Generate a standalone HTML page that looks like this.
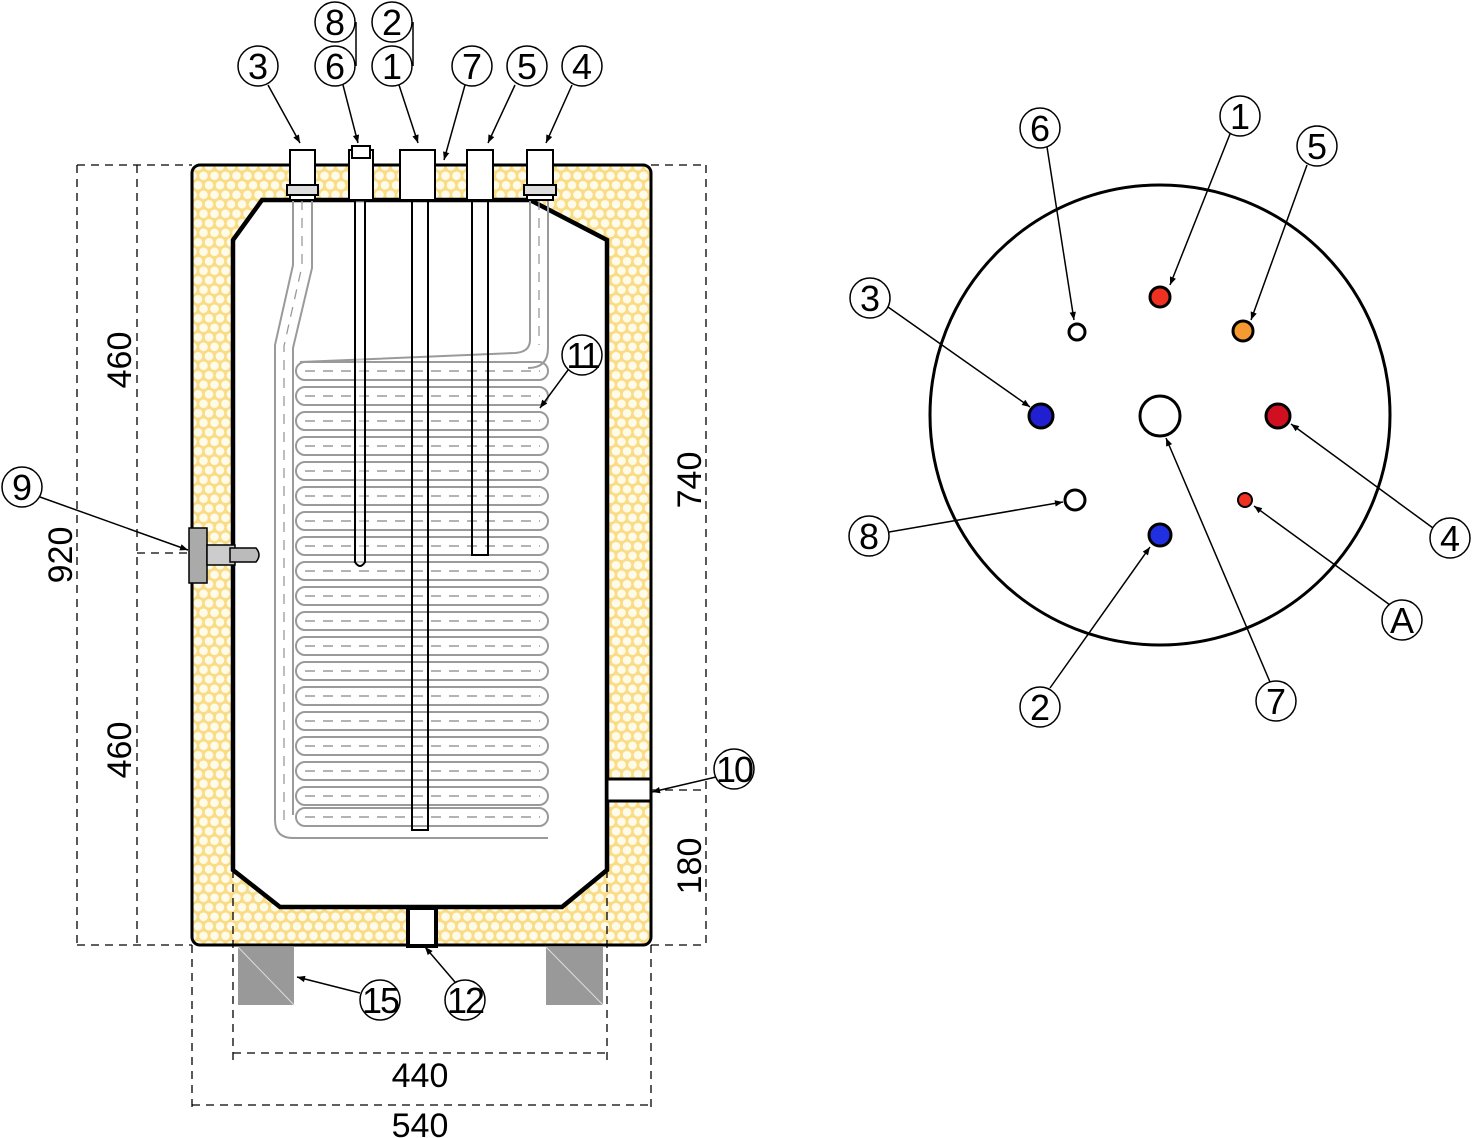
<!DOCTYPE html>
<html><head><meta charset="utf-8"><style>
html,body{margin:0;padding:0;background:#fff}
svg{display:block}
text{font-family:"Liberation Sans Narrow","Liberation Sans",sans-serif;fill:#000}
</style></head><body>
<svg width="1472" height="1138" viewBox="0 0 1472 1138" xmlns="http://www.w3.org/2000/svg">
<defs>
<pattern id="hex" width="11" height="19" patternUnits="userSpaceOnUse">
<rect width="11" height="19" fill="#f9dc85"/>
<circle cx="5.5" cy="4.75" r="4.3" fill="#fffbea"/>
<circle cx="0" cy="14.25" r="4.3" fill="#fffbea"/>
<circle cx="11" cy="14.25" r="4.3" fill="#fffbea"/>
</pattern>
<marker id="ar" viewBox="0 0 10 10" refX="10" refY="5" markerWidth="14" markerHeight="8" orient="auto" markerUnits="userSpaceOnUse"><path d="M0,1 L10,5 L0,9 Z" fill="#000"/></marker>
<g id="row">
<rect x="296" y="0" width="252" height="18" rx="9" fill="none" stroke="#9a9a9a" stroke-width="2"/>
<line x1="305" y1="9" x2="540" y2="9" stroke="#9a9a9a" stroke-width="1.5" stroke-dasharray="10,8"/>
</g>
</defs>

<!-- jacket -->
<rect x="192" y="165" width="459" height="780" rx="8" fill="url(#hex)" stroke="#000" stroke-width="3"/>
<!-- tank -->
<polygon points="262,200 530,200 607,240 607,870 562,907 280,907 233,870 233,240" fill="#fff" stroke="#000" stroke-width="4.5"/>

<!-- coil -->
<g>
<use href="#row" y="362"/><use href="#row" y="387"/><use href="#row" y="412"/><use href="#row" y="437"/>
<use href="#row" y="462"/><use href="#row" y="487"/><use href="#row" y="512"/><use href="#row" y="537"/>
<use href="#row" y="562"/><use href="#row" y="587"/><use href="#row" y="612"/><use href="#row" y="637"/>
<use href="#row" y="662"/><use href="#row" y="687"/><use href="#row" y="712"/><use href="#row" y="737"/>
<use href="#row" y="762"/><use href="#row" y="787"/><use href="#row" y="808"/>
</g>
<path d="M293,200 V265 L275,345 V820 Q275,838 293,838 H548" fill="none" stroke="#9a9a9a" stroke-width="2"/>
<path d="M312,200 V268 L293,348 V815" fill="none" stroke="#9a9a9a" stroke-width="2"/>
<path d="M302,200 V266 L284,346 V820" fill="none" stroke="#9a9a9a" stroke-width="1.3" stroke-dasharray="10,8"/>
<path d="M530,200 V340 Q530,352 515,353 L300,362" fill="none" stroke="#9a9a9a" stroke-width="2"/>
<path d="M548,200 V348 Q548,368 528,368" fill="none" stroke="#9a9a9a" stroke-width="2"/>
<line x1="539" y1="200" x2="539" y2="345" stroke="#9a9a9a" stroke-width="1.3" stroke-dasharray="10,8"/>

<!-- vertical pipes -->
<path d="M355,200 V562 Q360,570 365,562 V200" fill="#fff" fill-opacity="0.4" stroke="#000" stroke-width="2"/>
<rect x="412" y="200" width="16" height="630" fill="none" stroke="#000" stroke-width="2"/>
<rect x="472" y="200" width="16" height="355" fill="none" stroke="#000" stroke-width="2"/>

<!-- top fittings -->
<g stroke="#000" stroke-width="2" fill="#fff">
<rect x="290" y="150" width="25" height="50"/><rect x="287" y="185" width="31" height="10" fill="#ddd"/>
<rect x="349" y="150" width="24" height="50"/><rect x="352" y="146" width="18" height="12" fill="#fff"/>
<rect x="400" y="150" width="35" height="50"/>
<rect x="467" y="150" width="26" height="50"/>
<rect x="527" y="150" width="26" height="50"/><rect x="524" y="185" width="32" height="10" fill="#ddd"/>
</g>

<!-- side fitting 9 -->
<rect x="189" y="528" width="18" height="55" fill="#aaa" stroke="#000" stroke-width="1.5"/>
<rect x="207" y="545" width="28" height="20" fill="#ccc" stroke="#000" stroke-width="1.5"/>
<path d="M230,548 H256 Q262,555 256,562 H230 Z" fill="#bbb" stroke="#000" stroke-width="1.5"/>
<!-- fitting 10 -->
<rect x="607" y="779" width="44" height="22" fill="#fff" stroke="#000" stroke-width="3"/>
<!-- fitting 12 -->
<rect x="408" y="908" width="28" height="38" fill="#fff" stroke="#000" stroke-width="4"/>
<!-- feet -->
<rect x="238" y="947" width="56" height="58" fill="#999"/>
<rect x="546" y="947" width="57" height="58" fill="#999"/>
<line x1="238" y1="947" x2="294" y2="1005" stroke="#ddd" stroke-width="1"/>
<line x1="546" y1="947" x2="603" y2="1005" stroke="#ddd" stroke-width="1"/>

<!-- dimensions -->
<g stroke="#000" stroke-width="1.3" stroke-dasharray="8,6" fill="none">
<line x1="77" y1="165" x2="192" y2="165"/><line x1="77" y1="945" x2="192" y2="945"/>
<line x1="651" y1="165" x2="706" y2="165"/><line x1="651" y1="945" x2="706" y2="945"/>
<line x1="77" y1="165" x2="77" y2="945"/><line x1="137" y1="165" x2="137" y2="945"/>
<line x1="706" y1="165" x2="706" y2="945"/>
<line x1="137" y1="553" x2="189" y2="553"/>
<line x1="651" y1="790" x2="706" y2="790"/>
<line x1="233" y1="870" x2="233" y2="1060"/><line x1="607" y1="870" x2="607" y2="1060"/>
<line x1="192" y1="945" x2="192" y2="1110"/><line x1="651" y1="945" x2="651" y2="1110"/>
<line x1="233" y1="1053" x2="607" y2="1053"/>
<line x1="192" y1="1105" x2="651" y2="1105"/>
</g>
<g font-size="34">
<text transform="translate(131,360) rotate(-90)" text-anchor="middle">460</text>
<text transform="translate(72,555) rotate(-90)" text-anchor="middle">920</text>
<text transform="translate(131,750) rotate(-90)" text-anchor="middle">460</text>
<text transform="translate(701,480) rotate(-90)" text-anchor="middle">740</text>
<text transform="translate(701,866) rotate(-90)" text-anchor="middle">180</text>
<text x="420" y="1087" text-anchor="middle">440</text>
<text x="420" y="1137" text-anchor="middle">540</text>
</g>

<!-- leaders left -->
<g stroke="#000" stroke-width="1.5" fill="none">
<line x1="268" y1="85" x2="300" y2="143" marker-end="url(#ar)"/>
<line x1="343" y1="85" x2="358" y2="143" marker-end="url(#ar)"/>
<line x1="399" y1="85" x2="418" y2="143" marker-end="url(#ar)"/>
<line x1="465" y1="85" x2="444" y2="160" marker-end="url(#ar)"/>
<line x1="515" y1="85" x2="488" y2="143" marker-end="url(#ar)"/>
<line x1="572" y1="85" x2="546" y2="143" marker-end="url(#ar)"/>
<line x1="356" y1="22" x2="356" y2="66"/>
<line x1="413" y1="22" x2="413" y2="66"/>
<line x1="568" y1="370" x2="540" y2="408" marker-end="url(#ar)"/>
<line x1="40" y1="497" x2="188" y2="550" marker-end="url(#ar)"/>
<line x1="716" y1="777" x2="652" y2="792" marker-end="url(#ar)"/>
<line x1="360" y1="993" x2="297" y2="977" marker-end="url(#ar)"/>
<line x1="455" y1="982" x2="425" y2="947" marker-end="url(#ar)"/>
</g>
<g fill="#fff" stroke="#000" stroke-width="1.5">
<circle cx="258" cy="66" r="20"/><circle cx="335" cy="66" r="20"/><circle cx="335" cy="22" r="20"/>
<circle cx="392" cy="66" r="20"/><circle cx="392" cy="22" r="20"/><circle cx="472" cy="66" r="20"/>
<circle cx="527" cy="66" r="20"/><circle cx="582" cy="66" r="20"/><circle cx="582" cy="355" r="20"/>
<circle cx="22" cy="487" r="20"/><circle cx="734" cy="769" r="20"/><circle cx="380" cy="1000" r="20"/>
<circle cx="465" cy="1000" r="20"/>
</g>
<g font-size="36" text-anchor="middle">
<text x="258" y="79">3</text><text x="335" y="79">6</text><text x="335" y="35">8</text>
<text x="392" y="79">1</text><text x="392" y="35">2</text><text x="472" y="79">7</text>
<text x="527" y="79">5</text><text x="582" y="79">4</text><text x="582" y="368" letter-spacing="-3">11</text>
<text x="22" y="500">9</text><text x="734" y="782" letter-spacing="-2">10</text><text x="380" y="1013" letter-spacing="-2">15</text>
<text x="465" y="1013" letter-spacing="-2">12</text>
</g>

<!-- right view -->
<circle cx="1160" cy="415" r="230" fill="#fff" stroke="#000" stroke-width="3"/>
<g stroke="#000" stroke-width="3">
<circle cx="1160" cy="297" r="10" fill="#f03020"/>
<circle cx="1243" cy="331" r="10" fill="#f59a30"/>
<circle cx="1077" cy="332" r="8" fill="#fff"/>
<circle cx="1041" cy="416" r="12" fill="#2020d0"/>
<circle cx="1278" cy="416" r="12" fill="#d01020"/>
<circle cx="1160" cy="416" r="20" fill="#fff"/>
<circle cx="1075" cy="500" r="10" fill="#fff"/>
<circle cx="1245" cy="500" r="7" fill="#f03020" stroke-width="2"/>
<circle cx="1160" cy="535" r="11" fill="#2030e0"/>
</g>
<g stroke="#000" stroke-width="1.5" fill="none">
<line x1="1047" y1="147" x2="1074" y2="320" marker-end="url(#ar)"/>
<line x1="1230" y1="134" x2="1170" y2="285" marker-end="url(#ar)"/>
<line x1="1307" y1="165" x2="1251" y2="320" marker-end="url(#ar)"/>
<line x1="888" y1="307" x2="1030" y2="407" marker-end="url(#ar)"/>
<line x1="1433" y1="528" x2="1291" y2="424" marker-end="url(#ar)"/>
<line x1="1390" y1="605" x2="1254" y2="506" marker-end="url(#ar)"/>
<line x1="889" y1="532" x2="1063" y2="502" marker-end="url(#ar)"/>
<line x1="1050" y1="688" x2="1150" y2="547" marker-end="url(#ar)"/>
<line x1="1270" y1="682" x2="1166" y2="438" marker-end="url(#ar)"/>
</g>
<g fill="#fff" stroke="#000" stroke-width="1.5">
<circle cx="1040" cy="128" r="20"/><circle cx="1240" cy="116" r="20"/><circle cx="1317" cy="146" r="20"/>
<circle cx="870" cy="298" r="20"/><circle cx="1450" cy="538" r="20"/><circle cx="1402" cy="620" r="20"/>
<circle cx="869" cy="536" r="20"/><circle cx="1040" cy="707" r="20"/><circle cx="1276" cy="701" r="20"/>
</g>
<g font-size="36" text-anchor="middle">
<text x="1040" y="141">6</text><text x="1240" y="129">1</text><text x="1317" y="159">5</text>
<text x="870" y="311">3</text><text x="1450" y="551">4</text><text x="1402" y="633">A</text>
<text x="869" y="549">8</text><text x="1040" y="720">2</text><text x="1276" y="714">7</text>
</g>
</svg>
</body></html>
